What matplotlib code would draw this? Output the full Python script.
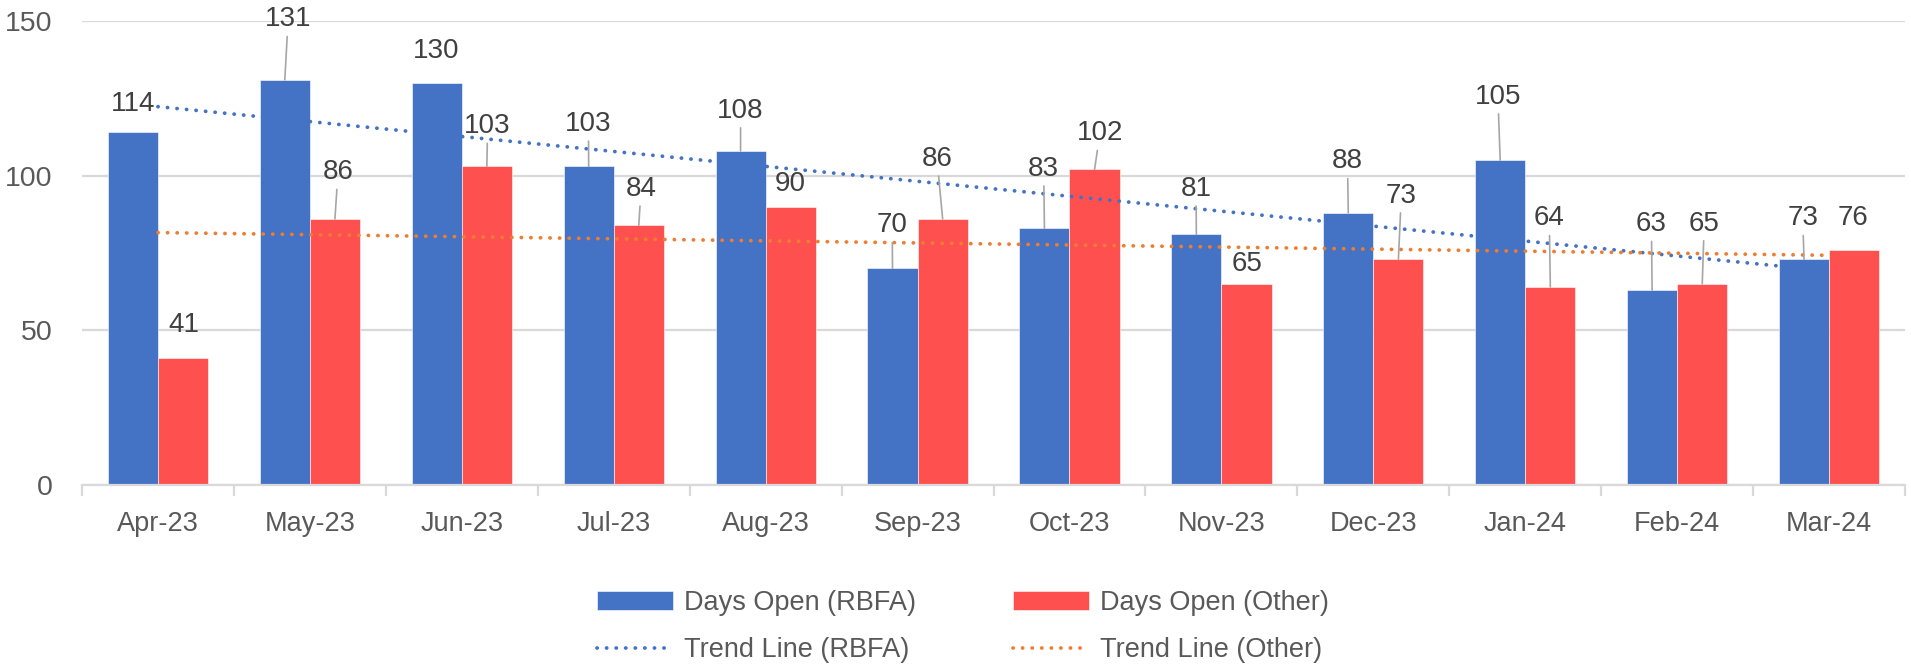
import matplotlib
matplotlib.use('Agg')
import matplotlib.pyplot as plt
import numpy as np

# chart data
months = ['Apr-23', 'May-23', 'Jun-23', 'Jul-23', 'Aug-23', 'Sep-23',
          'Oct-23', 'Nov-23', 'Dec-23', 'Jan-24', 'Feb-24', 'Mar-24']
days_rbfa = [114, 131, 130, 103, 108, 70, 83, 81, 88, 105, 63, 73]
days_other = [41, 86, 103, 84, 90, 86, 102, 65, 73, 64, 65, 76]

# where the data labels were dragged to (x offset from category centre, label height)
rbfa_label_dx = [-0.165, -0.143, -0.167, -0.166, -0.165, -0.167, -0.17, -0.167, -0.17, -0.18, -0.17, -0.174]
rbfa_label_y = [123.2, 150.5, 140.3, 116.7, 121.0, 83.9, 102.2, 95.7, 104.6, 125.5, 84.3, 86.2]
rbfa_leader = [False, True, False, True, True, True, True, True, True, True, True, True]
other_label_dx = [0.17, 0.185, 0.17, 0.18, 0.164, 0.128, 0.2, 0.167, 0.184, 0.158, 0.178, 0.156]
other_label_y = [51.7, 101.1, 116.0, 95.7, 97.3, 105.4, 113.7, 71.5, 93.5, 86.2, 84.5, 86.2]
other_leader = [False, True, True, True, False, True, True, False, True, True, True, False]

BLUE = '#4472C4'
RED = '#FF5050'
ORANGE = '#ED7D31'
GRID = '#D9D9D9'

plt.rcParams['font.family'] = ['Liberation Sans', 'DejaVu Sans']

fig = plt.figure(figsize=(19.11, 6.68), dpi=100)
ax = fig.add_axes([0.0429, 0.274, 0.954, 0.6946])

x = np.arange(len(months))
w = 0.33
b1 = ax.bar(x - w / 2, days_rbfa, w, color=BLUE, edgecolor='white', linewidth=0.4,
            zorder=2, label='Days Open (RBFA)')
b2 = ax.bar(x + w / 2, days_other, w, color=RED, edgecolor='white', linewidth=0.4,
            zorder=2, label='Days Open (Other)')

# linear trend lines, like the spreadsheet trendline
fit_rbfa = np.polyval(np.polyfit(x, days_rbfa, 1), x)
fit_other = np.polyval(np.polyfit(x, days_other, 1), x)
dots = (0, (0.05, 2.5))
l1, = ax.plot(x, fit_rbfa, color=BLUE, lw=2.7, linestyle=dots, dash_capstyle='round',
              zorder=3, label='Trend Line (RBFA)')
l2, = ax.plot(x, fit_other, color=ORANGE, lw=2.7, linestyle=dots, dash_capstyle='round',
              zorder=3, label='Trend Line (Other)')

# data labels
def put_labels(values, offs, dx, ys, leaders):
    for i in range(len(values)):
        props = None
        if leaders[i]:
            props = dict(arrowstyle='-', color='#A6A6A6', lw=1.2, shrinkA=1, shrinkB=0)
        ax.annotate(str(values[i]), xy=(i + offs, values[i]), xytext=(i + dx[i], ys[i]),
                    ha='center', va='center', fontsize=20, color='#404040',
                    arrowprops=props, zorder=4)

put_labels(days_rbfa, -w / 2, rbfa_label_dx, rbfa_label_y, rbfa_leader)
put_labels(days_other, w / 2, other_label_dx, other_label_y, other_leader)

ax.set_xlim(-0.5, len(months) - 0.5)
ax.set_ylim(0, 150)
ax.set_yticks([0, 50, 100, 150])
ax.yaxis.grid(True, color=GRID, lw=1.6, zorder=0)
ax.set_axisbelow(True)

ax.set_xticks(x)
ax.set_xticklabels(months)
ax.set_xticks(np.arange(-0.5, len(months)), minor=True)
ax.tick_params(axis='x', which='major', length=0, pad=19, labelsize=19.5, labelcolor='#595959')
ax.tick_params(axis='x', which='minor', length=8, width=1.6, color=GRID)
ax.tick_params(axis='y', length=0, pad=21, labelsize=20.5, labelcolor='#595959')

for s in ['top', 'right', 'left']:
    ax.spines[s].set_visible(False)
ax.spines['bottom'].set_color(GRID)
ax.spines['bottom'].set_linewidth(1.6)

leg = fig.legend([b1, l1, b2, l2],
                 ['Days Open (RBFA)', 'Trend Line (RBFA)', 'Days Open (Other)', 'Trend Line (Other)'],
                 ncol=2, loc='center', bbox_to_anchor=(0.504, 0.062), frameon=False,
                 fontsize=19.5, handlelength=2.8, handletextpad=0.4, columnspacing=3.6,
                 labelspacing=0.8)
for t in leg.get_texts():
    t.set_color('#595959')

fig.savefig('out.png', dpi=100)
